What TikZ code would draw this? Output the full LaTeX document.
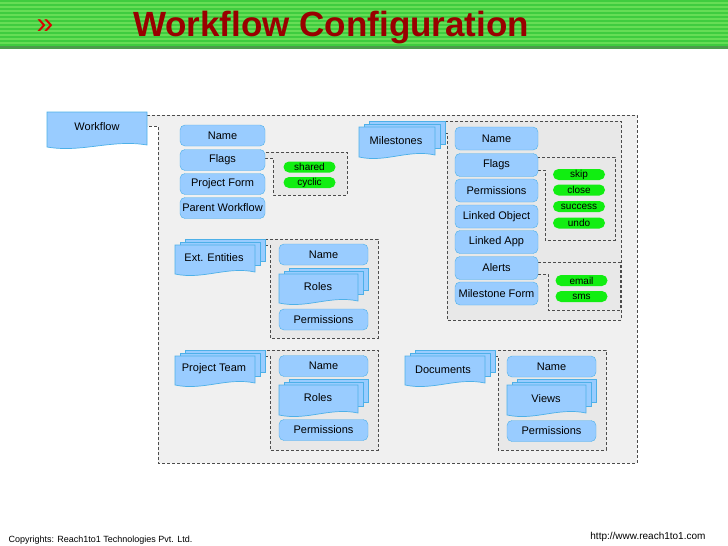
\documentclass[tikz,border=0pt]{standalone}
\usepackage{fontspec}
\setmainfont{Liberation Sans}
\usetikzlibrary{positioning}

\definecolor{boxfill}{HTML}{99CCFF}
\definecolor{boxline}{HTML}{4DB0E8}
\definecolor{pillgreen}{HTML}{11EE11}
\definecolor{panelgray}{HTML}{F0F0F0}
\definecolor{subgray}{HTML}{E8E8E8}
\definecolor{titlered}{HTML}{990000}
\definecolor{bandgreen}{HTML}{3FCC3F}
\definecolor{stripegreen}{HTML}{66DD55}

\tikzset{
  field/.style={draw=boxline, fill=boxfill, rounded corners=5pt, minimum width=85pt,
    minimum height=21pt, inner sep=1pt, font=\fontsize{11}{12}\selectfont},
  pill/.style={fill=pillgreen, rounded corners=5.5pt, minimum width=52pt, minimum height=11pt,
    inner sep=0pt, font=\fontsize{10}{10}\selectfont},
  panel/.style={draw=black!70, densely dashed, line width=0.5pt, fill=panelgray},
  subpanel/.style={draw=black!70, densely dashed, line width=0.5pt, fill=subgray},
  docshape/.style={draw=boxline, fill=boxfill, line width=0.7pt},
  label/.style={font=\fontsize{11}{12}\selectfont, inner sep=0pt}
}

% document shape: x1,y1 (top left), x2,y2 (bottom right)
\newcommand\docbox[4]{%
  \path[docshape] (#1,#2) -- (#3,#2) -- (#3,#4-3)
    .. controls ({#3-0.35*(#3-#1)},#4-9) and ({#1+0.35*(#3-#1)},#4+5) .. (#1,#4-1) -- cycle;}
% stacked documents
\newcommand\multidoc[4]{%
  \path[docshape] (#1+10,#2-6) rectangle (#3+10,#4-14);
  \path[docshape] (#1+5,#2-3) rectangle (#3+5,#4-10);
  \docbox{#1}{#2}{#3}{#4}}

\begin{document}
\begin{tikzpicture}[x=1pt, y=-1pt]
  \useasboundingbox (0,0) rectangle (728,546);
  \fill[white] (0,0) rectangle (728,546);

  % header band
  \fill[bandgreen] (0,0) rectangle (728,48);
  \foreach \y in {2,6,...,44} {
    \fill[stripegreen] (0,\y) rectangle (728,\y+1.5);
  }
  \fill[green!45!black!70] (0,46) rectangle (728,49);
  \node[text=red!85!black, font=\fontsize{30}{30}\selectfont] (chev) at (45,27) {»};
  \node[text=titlered, font=\bfseries\fontsize{35}{36}\selectfont] (title) at (331,28) {Workflow Configuration};

  % main panel
  \path[panel] (147,115) -- (637,115) -- (637,463) -- (158,463) -- (158,126) -- (147,126);
  \docbox{47}{112}{147}{148}
  \node[label] (workflow) at (97,127) {Workflow};

  % workflow fields
  \path[subpanel] (265,158) -- (273,158) -- (273,195) -- (347,195) -- (347,152) -- (265,152);
  \node[field] (wname) at (222.5,135.5) {Name};
  \node[field] (wflags) at (222.5,160) {Flags};
  \node[field] (wform) at (222.5,184) {Project Form};
  \node[field] (wparent) at (222.5,208) {Parent Workflow};
  \node[pill] (shared) at (309.5,167) {shared};
  \node[pill] (cyclic) at (309.5,182.5) {cyclic};

  % ext. entities
  \path[subpanel] (265,245) -- (270,245) -- (270,338) -- (378,338) -- (378,239) -- (265,239);
  \multidoc{175}{245}{255}{275}
  \node[label] (extent) at (214,258) {Ext. Entities};
  \node[field, minimum width=89pt] (ename) at (323.5,254.5) {Name};
  \multidoc{279}{274}{358}{304}
  \node[label] (eroles) at (318,287) {Roles};
  \node[field, minimum width=89pt] (eperm) at (323.5,319.5) {Permissions};

  % project team
  \path[subpanel] (265,356) -- (270,356) -- (270,450) -- (378,450) -- (378,350) -- (265,350);
  \multidoc{175}{356}{255}{386}
  \node[label] (team) at (214,369) {Project Team};
  \node[field, minimum width=89pt] (tname) at (323.5,366) {Name};
  \multidoc{279}{385}{358}{416}
  \node[label] (troles) at (318,398) {Roles};
  \node[field, minimum width=89pt] (tperm) at (323.5,430) {Permissions};

  % documents
  \path[subpanel] (495,356) -- (498,356) -- (498,450) -- (606,450) -- (606,350) -- (495,350);
  \multidoc{405}{356}{485}{386}
  \node[label] (docs) at (443,370) {Documents};
  \node[field, minimum width=89pt] (dname) at (551.5,366.5) {Name};
  \multidoc{507}{385}{586}{416}
  \node[label] (dviews) at (546,399) {Views};
  \node[field, minimum width=89pt] (dperm) at (551.5,431) {Permissions};

  % milestones
  \path[subpanel] (435,133) -- (447,133) -- (447,320) -- (621,320) -- (621,121) -- (435,121);
  \multidoc{359}{127}{435}{158}
  \node[label] (miles) at (396,141) {Milestones};
  \path[subpanel] (538,170) -- (545,170) -- (545,240) -- (615,240) -- (615,157) -- (538,157);
  \path[subpanel] (538,274) -- (548,274) -- (548,310) -- (620,310) -- (620,262) -- (538,262);
  \node[field, minimum width=83pt, minimum height=23pt] (mname) at (496.5,138.5) {Name};
  \node[field, minimum width=83pt, minimum height=23pt] (mflags) at (496.5,165) {Flags};
  \node[field, minimum width=83pt, minimum height=23pt] (mperm) at (496.5,190.5) {Permissions};
  \node[field, minimum width=83pt, minimum height=23pt] (mobj) at (496.5,216.5) {Linked Object};
  \node[field, minimum width=83pt, minimum height=23pt] (mapp) at (496.5,242) {Linked App};
  \node[field, minimum width=83pt, minimum height=23pt] (malerts) at (496.5,268) {Alerts};
  \node[field, minimum width=83pt, minimum height=23pt] (mform) at (496.5,293.5) {Milestone Form};
  \node[pill] (skip) at (579,174.5) {skip};
  \node[pill] (close) at (579,190) {close};
  \node[pill] (success) at (579,206.5) {success};
  \node[pill] (undo) at (579,223) {undo};
  \node[pill] (email) at (581.5,280.5) {email};
  \node[pill] (sms) at (581.5,296.5) {sms};

  % footer
  \node[anchor=west, font=\fontsize{9}{10}\selectfont] (copy) at (5,540) {Copyrights: Reach1to1 Technologies Pvt. Ltd.};
  \node[anchor=east, font=\fontsize{10}{11}\selectfont] (url) at (709,537) {http://www.reach1to1.com};
\end{tikzpicture}
\end{document}
